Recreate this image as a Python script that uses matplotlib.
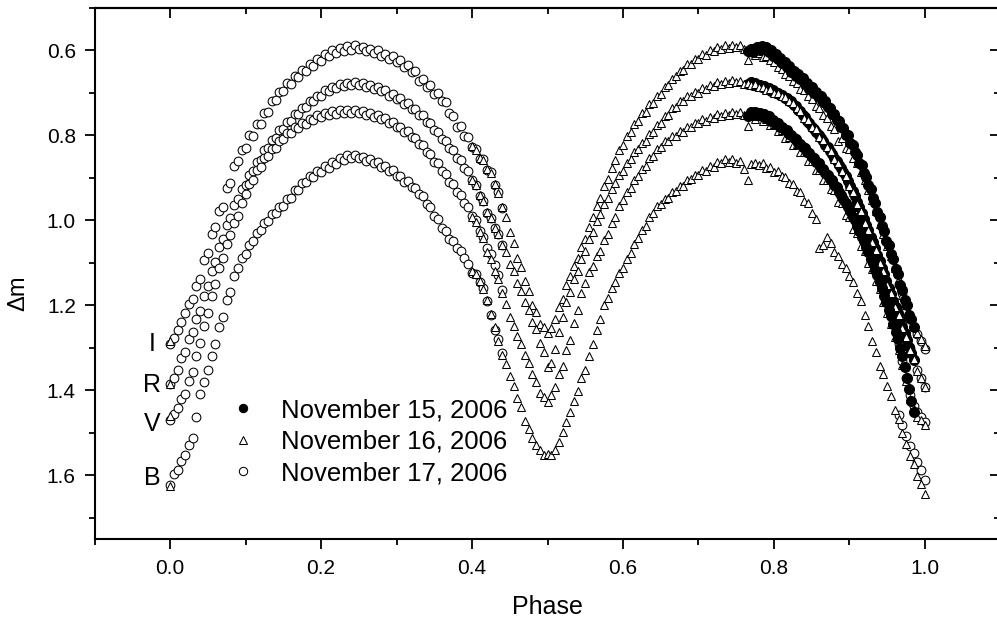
import matplotlib
matplotlib.use('Agg')
import matplotlib.pyplot as plt
from matplotlib.lines import Line2D
from matplotlib.ticker import MultipleLocator, FixedLocator, NullFormatter, FormatStrFormatter
import numpy as np

plt.rcParams['font.family'] = ['Liberation Sans', 'DejaVu Sans']

# ---------------- data (phase, delta m in mmag) ----------------
# November 17, 2006 (open circles)
ph17 = [0.000, 0.005, 0.010, 0.015, 0.020, 0.025, 0.030, 0.035, 0.040, 0.045,
        0.050, 0.055, 0.060, 0.065, 0.070, 0.075, 0.080, 0.085, 0.090, 0.095,
        0.100, 0.105, 0.110, 0.115, 0.120, 0.125, 0.130, 0.135, 0.140, 0.145,
        0.150, 0.155, 0.160, 0.165, 0.170, 0.175, 0.180, 0.185, 0.190, 0.195,
        0.200, 0.205, 0.210, 0.215, 0.220, 0.225, 0.230, 0.235, 0.240, 0.245,
        0.250, 0.255, 0.260, 0.265, 0.270, 0.275, 0.280, 0.285, 0.290, 0.295,
        0.300, 0.305, 0.310, 0.315, 0.320, 0.325, 0.330, 0.335, 0.340, 0.345,
        0.350, 0.355, 0.360, 0.365, 0.370, 0.375, 0.380, 0.385, 0.390, 0.395,
        0.400, 0.405, 0.410, 0.415, 0.420, 0.425, 0.430, 0.435, 0.440,
        0.965, 0.970, 0.975, 0.980, 0.985, 0.990, 0.995, 1.000]
I17 = [1292, 1276, 1259, 1238, 1219, 1196, 1184, 1155, 1139, 1094,
       1076, 1032, 1016, 979, 968, 924, 911, 872, 861, 835,
       829, 800, 801, 774, 772, 746, 745, 719, 716, 698,
       696, 677, 679, 660, 662, 646, 648, 633, 637, 620,
       624, 609, 614, 600, 607, 594, 601, 590, 598, 588,
       597, 591, 601, 596, 606, 599, 612, 608, 619, 613,
       627, 622, 639, 634, 651, 649, 671, 666, 686, 682,
       703, 699, 720, 722, 746, 754, 781, 778, 801, 804,
       828, 832, 856, 855, 881, 886, 916, 932, 971,
       1150, 1172, 1198, 1228, 1250, 1268, 1285, 1302]
R17 = [1386, 1372, 1353, 1324, 1309, 1279, 1263, 1232, 1214, 1177,
       1154, 1118, 1099, 1063, 1044, 1011, 994, 963, 949, 925,
       916, 892, 884, 862, 857, 835, 829, 810, 807, 788,
       784, 768, 766, 750, 749, 735, 734, 720, 720, 706,
       706, 694, 696, 685, 688, 679, 684, 676, 682, 675,
       682, 676, 685, 681, 691, 686, 696, 694, 706, 703,
       714, 713, 726, 724, 737, 738, 752, 753, 769, 771,
       787, 791, 809, 812, 830, 835, 854, 858, 876, 884,
       904, 916, 942, 955, 982, 994, 1019, 1032, 1059,
       1222, 1245, 1272, 1300, 1326, 1352, 1372, 1392]
V17 = [1470, 1455, 1442, 1420, 1408, 1378, 1358, 1318, 1289, 1248,
       1219, 1178, 1149, 1113, 1089, 1055, 1034, 1005, 989, 958,
       939, 915, 904, 882, 874, 854, 849, 832, 829, 812,
       809, 795, 794, 781, 782, 770, 772, 761, 764, 753,
       757, 747, 752, 743, 749, 740, 746, 739, 746, 740,
       748, 742, 752, 746, 756, 751, 761, 758, 770, 768,
       780, 779, 791, 790, 804, 805, 819, 823, 840, 844,
       862, 866, 884, 890, 909, 915, 934, 940, 959, 968,
       989, 1000, 1024, 1038, 1064, 1078, 1104, 1128, 1164,
       1290, 1330, 1372, 1412, 1436, 1452, 1463, 1474]
B17 = [1622, 1598, 1588, 1566, 1553, 1528, 1512, 1462, 1408, 1380,
       1352, 1318, 1292, 1252, 1228, 1188, 1168, 1132, 1112, 1088,
       1079, 1057, 1048, 1030, 1023, 1006, 1002, 985, 982, 968,
       966, 949, 947, 929, 928, 911, 910, 896, 897, 884,
       886, 872, 876, 862, 867, 854, 858, 847, 853, 846,
       854, 850, 860, 855, 866, 862, 874, 872, 884, 882,
       896, 895, 909, 908, 922, 924, 939, 943, 962, 968,
       989, 996, 1019, 1025, 1044, 1049, 1066, 1072, 1089, 1102,
       1124, 1127, 1144, 1160, 1190, 1222, 1258, 1280, 1313,
       1458, 1482, 1508, 1530, 1548, 1568, 1588, 1612]

# November 16, 2006 (open triangles)
ph16 = [0.000,
        0.400, 0.405, 0.410, 0.415, 0.420, 0.425, 0.430, 0.435, 0.440, 0.445,
        0.450, 0.455, 0.460, 0.465, 0.470, 0.475, 0.480, 0.485, 0.490, 0.495,
        0.500, 0.505, 0.510, 0.515, 0.520, 0.525, 0.530, 0.535, 0.540, 0.545,
        0.550, 0.555, 0.560, 0.565, 0.570, 0.575, 0.580, 0.585, 0.590, 0.595,
        0.600, 0.605, 0.610, 0.615, 0.620, 0.625, 0.630, 0.635, 0.640, 0.645,
        0.650, 0.655, 0.660, 0.665, 0.670, 0.675, 0.680, 0.685, 0.690, 0.695,
        0.700, 0.705, 0.710, 0.715, 0.720, 0.725, 0.730, 0.735, 0.740, 0.745,
        0.750, 0.755, 0.760, 0.765, 0.770, 0.775, 0.780, 0.785, 0.790, 0.795,
        0.800, 0.805, 0.810, 0.815, 0.820, 0.825, 0.830, 0.835, 0.840, 0.845,
        0.850, 0.855, 0.860, 0.865, 0.870, 0.875, 0.880, 0.885, 0.890, 0.895,
        0.900, 0.905, 0.910, 0.915, 0.920, 0.925, 0.930, 0.935, 0.940, 0.945,
        0.950, 0.955, 0.960, 0.965, 0.970, 0.975, 0.980, 0.985, 0.990, 0.995,
        1.000]
I16 = [1284,
       826, 834, 853, 858, 879, 889, 914, 936, 968, 992,
       1028, 1052, 1088, 1110, 1143, 1166, 1198, 1215, 1243, 1250,
       1264, 1254, 1232, 1205, 1186, 1153, 1132, 1108, 1088, 1063,
       1044, 1015, 993, 966, 947, 920, 902, 876, 858, 835,
       822, 801, 792, 772, 765, 748, 744, 727, 723, 707,
       702, 686, 682, 666, 661, 648, 645, 632, 631, 620,
       620, 609, 610, 600, 601, 592, 596, 588, 593, 586,
       592, 587, 596, 622, 604, 610, 606, 615, 612, 622,
       627, 638, 644, 655, 660, 672, 676, 690, 694, 708,
       714, 730, 735, 752, 760, 778, 784, 812, 806, 830,
       832, 853, 866, 886, 906, 928, 952, 978, 1008, 1032,
       1060, 1084, 1112, 1138, 1176, 1200, 1230, 1248, 1266, 1280,
       1296]
R16 = [1386,
       904, 916, 941, 955, 981, 994, 1018, 1033, 1058, 1075,
       1103, 1120, 1148, 1165, 1193, 1210, 1238, 1256, 1288, 1310,
       1344, 1336, 1302, 1262, 1228, 1192, 1168, 1138, 1118, 1090,
       1073, 1044, 1028, 1001, 986, 962, 948, 925, 913, 893,
       884, 864, 856, 838, 833, 817, 813, 797, 793, 776,
       771, 755, 751, 736, 733, 720, 719, 708, 708, 698,
       699, 689, 691, 681, 684, 675, 679, 671, 676, 669,
       675, 672, 679, 676, 682, 680, 687, 685, 692, 691,
       699, 699, 708, 709, 719, 723, 736, 742, 758, 764,
       780, 786, 803, 810, 828, 836, 855, 864, 883, 896,
       918, 934, 961, 978, 1006, 1022, 1051, 1070, 1101, 1120,
       1153, 1172, 1203, 1222, 1253, 1274, 1305, 1326, 1355, 1370,
       1393]
V16 = [1460,
       992, 1003, 1027, 1042, 1074, 1090, 1118, 1138, 1172, 1196,
       1228, 1248, 1272, 1290, 1317, 1335, 1362, 1380, 1407, 1416,
       1427, 1412, 1392, 1362, 1342, 1305, 1282, 1242, 1212, 1172,
       1148, 1121, 1107, 1084, 1072, 1047, 1032, 1006, 992, 966,
       952, 933, 924, 904, 896, 878, 871, 853, 848, 832,
       828, 814, 813, 801, 801, 790, 791, 780, 781, 770,
       771, 762, 765, 756, 759, 750, 754, 746, 751, 744,
       750, 745, 752, 778, 752, 762, 755, 766, 762, 776,
       774, 790, 788, 806, 803, 822, 820, 840, 839, 860,
       860, 882, 882, 905, 906, 927, 929, 956, 960, 988,
       991, 1020, 1029, 1060, 1071, 1100, 1115, 1142, 1162, 1192,
       1218, 1245, 1274, 1306, 1340, 1378, 1420, 1444, 1462, 1470,
       1482]
B16 = [1624,
       1118, 1126, 1142, 1162, 1188, 1220, 1252, 1284, 1316, 1338,
       1366, 1390, 1418, 1440, 1472, 1490, 1512, 1528, 1541, 1552,
       1549, 1553, 1540, 1522, 1498, 1474, 1450, 1424, 1402, 1372,
       1352, 1318, 1292, 1258, 1232, 1200, 1182, 1160, 1146, 1124,
       1112, 1090, 1077, 1055, 1042, 1022, 1012, 993, 983, 967,
       962, 950, 948, 934, 931, 919, 918, 905, 903, 892,
       893, 882, 884, 872, 874, 863, 866, 856, 862, 855,
       866, 860, 878, 904, 868, 864, 870, 866, 876, 874,
       886, 884, 896, 898, 912, 914, 930, 934, 954, 960,
       982, 996, 1064, 1058, 1040, 1052, 1074, 1084, 1102, 1112,
       1132, 1146, 1170, 1190, 1222, 1248, 1284, 1310, 1342, 1362,
       1390, 1414, 1446, 1468, 1500, 1526, 1554, 1574, 1602, 1620,
       1644]

# November 15, 2006 (filled circles)
ph15 = [0.766, 0.769, 0.772, 0.775, 0.778, 0.781, 0.784, 0.787, 0.790, 0.793,
        0.796, 0.799, 0.802, 0.805, 0.808, 0.811, 0.814, 0.817, 0.820, 0.823,
        0.826, 0.829, 0.832, 0.835, 0.838, 0.841, 0.844, 0.847, 0.850, 0.853,
        0.856, 0.859, 0.862, 0.865, 0.868, 0.871, 0.874, 0.877, 0.880, 0.883,
        0.886, 0.889, 0.892, 0.895, 0.898, 0.901, 0.904, 0.907, 0.910, 0.913,
        0.916, 0.919, 0.922, 0.925, 0.928, 0.931, 0.934, 0.937, 0.940, 0.943,
        0.946, 0.949, 0.952, 0.955, 0.958, 0.961, 0.964, 0.967, 0.970, 0.973,
        0.976, 0.979, 0.982, 0.985]
I15 = [601, 596, 603, 597, 592, 598, 589, 596, 591, 603,
       600, 612, 609, 620, 617, 630, 628, 640, 637, 650,
       648, 659, 656, 668, 664, 678, 676, 690, 686, 699,
       697, 710, 707, 722, 720, 734, 735, 749, 750, 764,
       766, 780, 783, 799, 800, 818, 823, 840, 846, 864,
       870, 889, 897, 917, 926, 948, 958, 980, 993, 1014,
       1026, 1048, 1058, 1080, 1090, 1114, 1126, 1152, 1164, 1188,
       1198, 1222, 1232, 1250]
R15 = [679, 675, 681, 677, 684, 681, 687, 684, 691, 688,
       695, 693, 699, 699, 705, 705, 711, 711, 719, 720,
       729, 731, 740, 743, 753, 756, 766, 770, 779, 784,
       793, 798, 807, 812, 822, 828, 837, 843, 853, 860,
       869, 877, 887, 896, 908, 918, 931, 943, 957, 969,
       983, 996, 1010, 1023, 1038, 1051, 1066, 1081, 1096, 1112,
       1127, 1143, 1158, 1174, 1189, 1204, 1219, 1235, 1250, 1266,
       1282, 1297, 1313, 1328]
V15 = [754, 745, 751, 744, 752, 746, 754, 750, 759, 755,
       766, 763, 772, 771, 780, 779, 788, 788, 797, 798,
       807, 808, 817, 819, 828, 830, 839, 842, 851, 853,
       863, 866, 876, 879, 889, 893, 902, 906, 916, 922,
       932, 940, 950, 958, 969, 978, 991, 1000, 1014, 1024,
       1038, 1049, 1063, 1074, 1090, 1100, 1116, 1128, 1146, 1159,
       1177, 1192, 1210, 1226, 1243, 1262, 1278, 1300, 1318, 1346,
       1372, 1398, 1424, 1450]

band_names = ['I', 'R', 'V', 'B']
legend_labels = ['November 15, 2006', 'November 16, 2006', 'November 17, 2006']

for b in (I17, R17, V17, B17):
    assert len(b) == len(ph17)
for b in (I16, R16, V16, B16):
    assert len(b) == len(ph16)
for b in (I15, R15, V15):
    assert len(b) == len(ph15)


def mag(lst):
    return np.array(lst) / 1000.0


fig = plt.figure(figsize=(9.97, 6.2), dpi=100)
ax = fig.add_axes([0.0948, 0.1306, 0.9087, 0.8565])

ms = 6.3
common = dict(linestyle='none', markeredgecolor='black', markeredgewidth=0.75)

# Nov 17 - open circles
for b in (I17, R17, V17, B17):
    ax.plot(ph17, mag(b), marker='o', markersize=ms, markerfacecolor='white', zorder=2, **common)
# Nov 15 R under the triangles
ax.plot(ph15, mag(R15), marker='o', markersize=7.2, markerfacecolor='black', zorder=2.5, **common)
# Nov 16 - open triangles
for b in (I16, R16, V16, B16):
    ax.plot(ph16, mag(b), marker='^', markersize=ms, markerfacecolor='white', zorder=3, **common)
# Nov 15 I and V on top, big dots so the band looks solid
for b in (I15, V15):
    ax.plot(ph15, mag(b), marker='o', markersize=7.2, markerfacecolor='black', zorder=4, **common)

# band labels
label_pos = {'I': 1.308, 'R': 1.404, 'V': 1.496, 'B': 1.623}
for name in band_names:
    ax.text(-0.024, label_pos[name], name, fontsize=18, ha='center', va='baseline')

# legend
handles = [Line2D([], [], marker='o', markersize=6, markerfacecolor='black', **common),
           Line2D([], [], marker='^', markersize=6, markerfacecolor='white', **common),
           Line2D([], [], marker='o', markersize=6, markerfacecolor='white', **common)]
ax.legend(handles, legend_labels, loc='upper left', bbox_to_anchor=(0.2312, 0.358),
          bbox_transform=fig.transFigure, frameon=False, fontsize=18.5,
          handlelength=1.0, handletextpad=0.95, labelspacing=0.3,
          borderpad=0, borderaxespad=0, numpoints=1)

# axes
ax.set_xlim(-0.1, 1.1)
ax.set_ylim(1.75, 0.5)
xmaj = [0.0, 0.2, 0.4, 0.6, 0.8, 1.0]
ymaj = [0.6, 0.8, 1.0, 1.2, 1.4, 1.6]
ax.xaxis.set_major_locator(FixedLocator(xmaj))
ax.xaxis.set_minor_locator(MultipleLocator(0.1))
ax.yaxis.set_major_locator(FixedLocator(ymaj))
ax.yaxis.set_minor_locator(MultipleLocator(0.1))
ax.xaxis.set_major_formatter(FormatStrFormatter('%.1f'))
ax.yaxis.set_major_formatter(FormatStrFormatter('%.1f'))
ax.tick_params(which='major', direction='out', length=7.5, width=1.3, labelsize=15, pad=6)
ax.tick_params(which='minor', direction='out', length=4, width=1.3)
ax.tick_params(axis='x', which='major', pad=7)
for s in ax.spines.values():
    s.set_linewidth(1.5)

secx = ax.secondary_xaxis('top')
secx.xaxis.set_major_locator(FixedLocator(xmaj))
secx.xaxis.set_minor_locator(MultipleLocator(0.1))
secx.xaxis.set_major_formatter(NullFormatter())
secx.tick_params(which='major', direction='in', length=7.5, width=1.3)
secx.tick_params(which='minor', direction='in', length=4, width=1.3)
secx.spines['top'].set_linewidth(1.5)

secy = ax.secondary_yaxis('right')
secy.yaxis.set_major_locator(FixedLocator(ymaj))
secy.yaxis.set_minor_locator(MultipleLocator(0.1))
secy.yaxis.set_major_formatter(NullFormatter())
secy.tick_params(which='major', direction='in', length=7.5, width=1.3)
secy.tick_params(which='minor', direction='in', length=4, width=1.3)

ax.set_xlabel('Phase', fontsize=18, labelpad=12)
ax.set_ylabel('\u0394m', fontsize=17)
ax.yaxis.set_label_coords(-0.072, 0.463)

fig.savefig('out.png', dpi=100)
